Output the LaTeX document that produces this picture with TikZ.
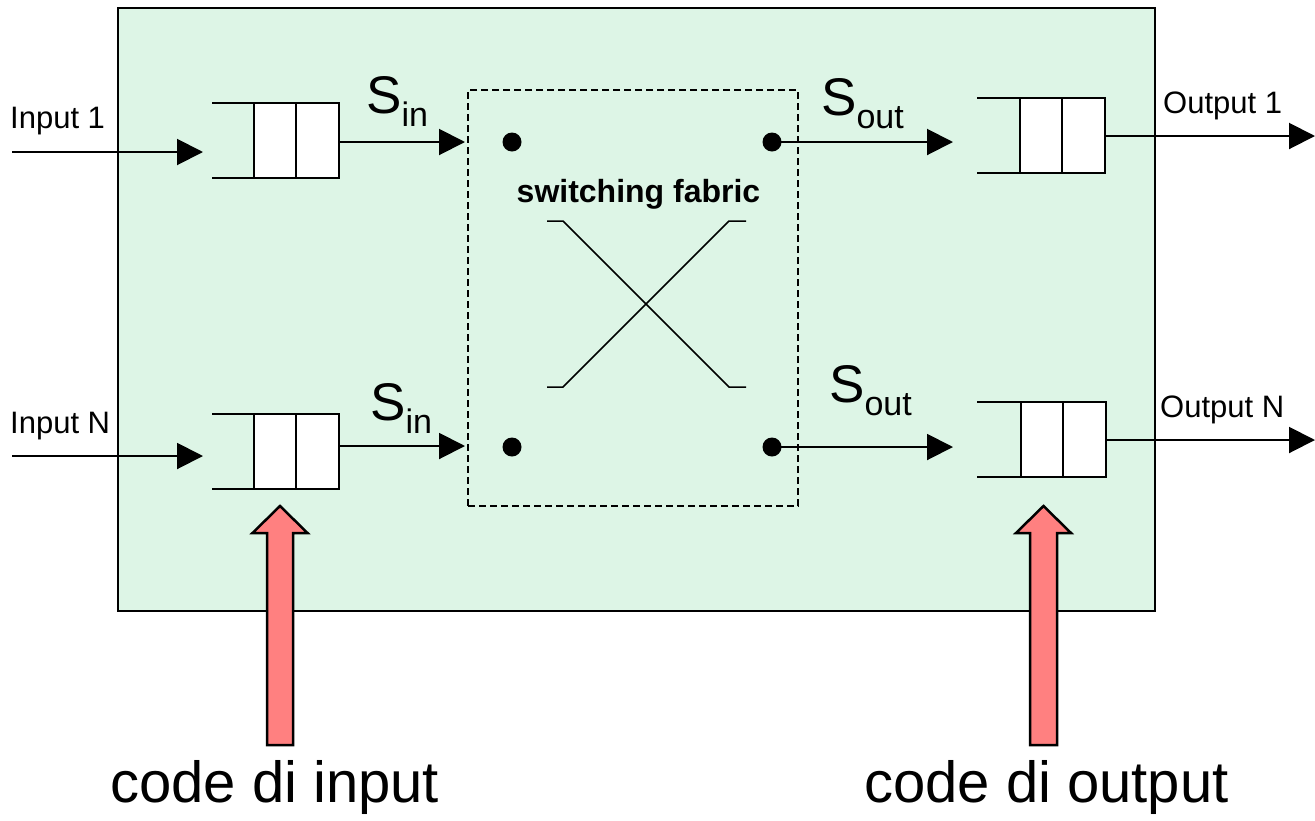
\documentclass[tikz,border=0pt]{standalone}
\usepackage{fontspec}
\setmainfont{Liberation Sans}
\usetikzlibrary{arrows.meta}
\definecolor{boxgreen}{RGB}{221,245,230}
\definecolor{bigred}{RGB}{255,128,128}
\newcommand{\Slab}[1]{{\fontsize{53}{53}\selectfont S}\raisebox{-13pt}{\fontsize{34}{34}\selectfont #1}}
\tikzset{
  cell/.style={draw, line width=2pt, fill=white, minimum width=42.5pt, minimum height=75pt, inner sep=0pt, outer sep=0pt},
  qline/.style={line width=2pt},
  flow/.style={line width=2pt, -{Triangle[length=26pt,width=26pt]}},
  dotnode/.style={circle, fill=black, minimum size=19pt, inner sep=0pt},
  lab/.style={inner sep=0pt, anchor=base west, font=\fontsize{31}{31}\selectfont},
  slab/.style={inner sep=0pt, anchor=base west},
  biglab/.style={inner sep=0pt, anchor=base west, font=\fontsize{58}{58}\selectfont},
  bigarrow/.style={draw, line width=2.5pt, fill=bigred, line join=miter},
  cross/.style={line width=1.5pt}
}
\begin{document}
\begin{tikzpicture}[x=1pt,y=-1pt]
\useasboundingbox (0,0) rectangle (1315,820);
% main box
\node[draw, line width=2pt, fill=boxgreen, minimum width=1037pt, minimum height=603pt, inner sep=0pt] (router) at (636.5,309.5) {};
% fabric
\node[draw, dashed, dash pattern=on 7pt off 4pt, line width=1.5pt, minimum width=330pt, minimum height=416pt, inner sep=0pt] (fabric) at (633,298) {};
\node[inner sep=0pt, anchor=base, font=\bfseries\fontsize{32}{32}\selectfont] (fablab) at (638.5,202) {switching fabric};
% cross
\draw[cross] (547,221) -- (563,221) -- (729,387) -- (746,387);
\draw[cross] (547,387) -- (563,387) -- (729,221) -- (746,221);
% dots
\node[dotnode] (d11) at (512,142) {};
\node[dotnode] (d12) at (772,142) {};
\node[dotnode] (dN1) at (512,447) {};
\node[dotnode] (dN2) at (772,447) {};
% input queues
\node[cell] (i1a) at (275,140.5) {};
\node[cell] (i1b) at (317.5,140.5) {};
\draw[qline] (212,103) -- (i1a.north west);
\draw[qline] (212,178) -- (i1a.south west);
\node[cell] (iNa) at (275,451) {};
\node[cell] (iNb) at (317.5,451) {};
\draw[qline] (212,413.5) -- (iNa.north west);
\draw[qline] (212,488.5) -- (iNa.south west);
% output queues
\node[cell] (o1a) at (1041,135.5) {};
\node[cell] (o1b) at (1083.5,135.5) {};
\draw[qline] (977,98) -- (o1a.north west);
\draw[qline] (977,173) -- (o1a.south west);
\node[cell] (oNa) at (1042,439) {};
\node[cell] (oNb) at (1084.5,439) {};
\draw[qline] (977,401.5) -- (oNa.north west);
\draw[qline] (977,476.5) -- (oNa.south west);
% coordinates
\coordinate (in1s) at (12,152);
\coordinate (in1e) at (203,152);
\coordinate (inNs) at (12,456);
\coordinate (inNe) at (203,456);
\coordinate (f1) at (465,142);
\coordinate (fN) at (465,446);
\coordinate (g1) at (953,142);
\coordinate (gN) at (953,447);
\coordinate (out1) at (1315,136);
\coordinate (outN) at (1315,440);
% flows
\draw[flow] (in1s) -- (in1e);
\draw[flow] (inNs) -- (inNe);
\draw[flow] (i1b.east |- f1) -- (f1);
\draw[flow] (iNb.east |- fN) -- (fN);
\draw[flow] (d12.center) -- (g1);
\draw[flow] (dN2.center) -- (gN);
\draw[flow] (o1b.east |- out1) -- (out1);
\draw[flow] (oNb.east |- outN) -- (outN);
% labels
\node[lab] (lin1) at (10,128) {Input 1};
\node[lab] (linN) at (10,433) {Input N};
\node[lab] (lout1) at (1163,113) {Output 1};
\node[lab] (loutN) at (1160,417) {Output N};
\node[slab] (sin1) at (366,113) {\Slab{in}};
\node[slab] (sinN) at (370,420) {\Slab{in}};
\node[slab] (sout1) at (821,115) {\Slab{out}};
\node[slab] (soutN) at (829,402) {\Slab{out}};
% big arrows
\draw[bigarrow] (280,506) -- (307.5,533) -- (293,533) -- (293,745) -- (267,745) -- (267,533) -- (252.5,533) -- cycle;
\draw[bigarrow] (1043.5,506) -- (1071,533) -- (1057,533) -- (1057,745) -- (1030,745) -- (1030,533) -- (1016,533) -- cycle;
\node[biglab] (cin) at (110,802) {code di input};
\node[biglab] (cout) at (864,802) {code di output};
\end{tikzpicture}
\end{document}
